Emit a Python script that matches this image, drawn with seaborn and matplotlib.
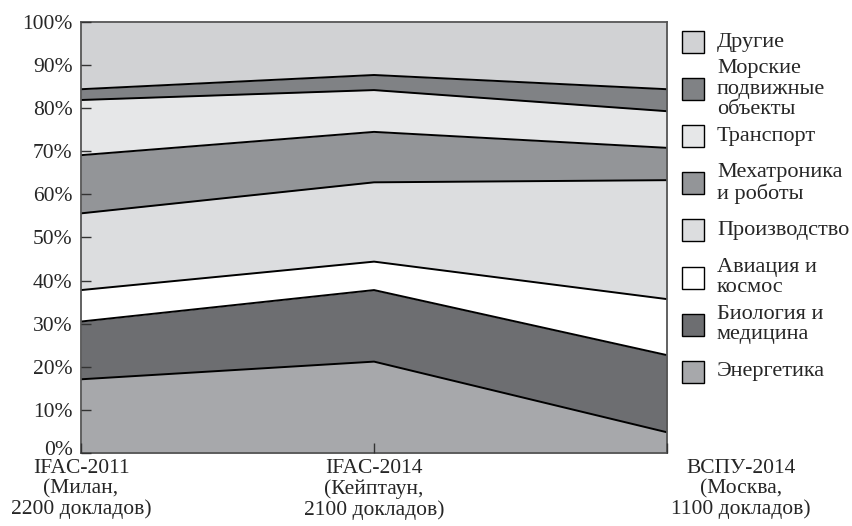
import numpy as np
import matplotlib.pyplot as plt
import matplotlib.transforms as mtransforms
import seaborn as sns

# conferences (x axis)
conferences = ["IFAC-2011\n(Милан,\n2200 докладов)",
               "IFAC-2014\n(Кейптаун,\n2100 докладов)",
               "ВСПУ-2014\n(Москва,\n1100 докладов)"]

# shares in %, bottom layer first
energy = [17.1, 21.2, 4.8]
biomed = [13.4, 16.6, 17.9]
aviation = [7.3, 6.6, 13.0]
production = [17.8, 18.4, 27.6]
mechatronics = [13.5, 11.7, 7.5]
transport = [12.8, 9.7, 8.5]
marine = [2.5, 3.5, 5.1]
others = [15.6, 12.3, 15.6]

labels = ["Энергетика", "Биология и\nмедицина", "Авиация и\nкосмос", "Производство",
          "Мехатроника\nи роботы", "Транспорт", "Морские\nподвижные\nобъекты", "Другие"]
colors = ["#a7a8ab", "#6d6e71", "#ffffff", "#dcdddf",
          "#939598", "#e6e7e8", "#808285", "#d1d2d4"]

sns.set_style("ticks")
plt.rcParams['font.family'] = ['Liberation Serif', 'DejaVu Serif']

W, H = 853, 526
fig = plt.figure(figsize=(W / 100, H / 100), dpi=100)
ax = fig.add_axes([0.095, 0.1388, 0.687, 0.8194])

x = np.arange(len(conferences))
series = [energy, biomed, aviation, production, mechatronics, transport, marine, others]
polys = ax.stackplot(x, *series, colors=colors, linewidth=0)

# black boundary lines between layers
cum = np.cumsum(np.array(series), axis=0)
for top in cum[:-1]:
    sns.lineplot(x=x, y=top, color="black", linewidth=1.4, ax=ax, legend=False)

ax.set_axisbelow(False)
ax.set_xlim(0, 2)
ax.set_ylim(0, 100)
ax.set_yticks(np.arange(0, 101, 10))
ax.set_yticklabels([f"{v}%" for v in range(0, 101, 10)])
ax.set_xticks(x)
ax.set_xticklabels(conferences, linespacing=1.1)
ax.tick_params(axis="both", direction="in", length=7, width=1, color="#333333",
               labelsize=15.5, pad=4)
ax.tick_params(axis="y", pad=6)
# lift the 0% label a little so it clears the conference names
lab0 = ax.get_yticklabels()[0]
lab0.set_transform(lab0.get_transform() + mtransforms.ScaledTranslation(0, 0.05, fig.dpi_scale_trans))
for s in ax.spines.values():
    s.set_color("#555555")
    s.set_linewidth(1.3)

# shift the last conference label to the right like the original
lab = ax.get_xticklabels()[-1]
lab.set_transform(lab.get_transform() + mtransforms.ScaledTranslation(0.74, 0, fig.dpi_scale_trans))

# legend drawn by hand: evenly spaced rows, top layer first
row_top, row_step = 42, 47.1
box = 22
for i, (lbl, c) in enumerate(zip(labels[::-1], colors[::-1])):
    yc = row_top + i * row_step
    fig.patches.append(plt.Rectangle((682 / W, 1 - (yc + box / 2) / H), box / W, box / H,
                                     facecolor=c, edgecolor="black", linewidth=1,
                                     transform=fig.transFigure, figure=fig))
    fig.text(717 / W, 1 - yc / H, lbl, fontsize=16, va="center", ha="left",
             linespacing=1.1)

fig.savefig("out.png", dpi=100)
